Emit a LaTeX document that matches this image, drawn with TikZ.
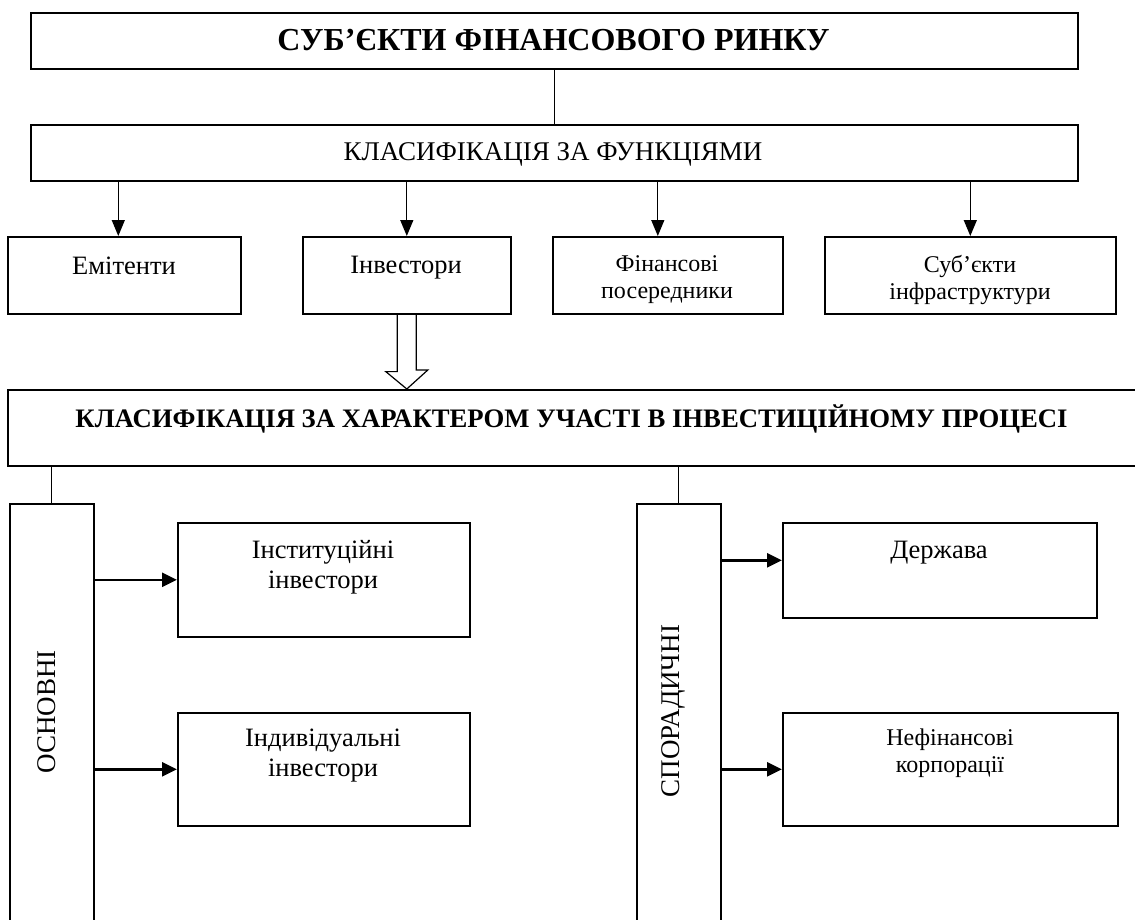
\documentclass[tikz,border=0pt]{standalone}
\usepackage{fontspec}
\setmainfont{Liberation Serif}
\usetikzlibrary{arrows.meta}
\begin{document}
\begin{tikzpicture}[x=1pt,y=-1pt,
 box/.style={draw, line width=1.6pt, inner sep=0pt, anchor=north west},
 conn/.style={line width=1pt},
 varr/.style={line width=1.3pt, -{Triangle[length=16pt,width=13pt]}},
 harr/.style={line width=2.6pt, -{Triangle[length=15pt,width=14pt]}},
 txt/.style={font=\fontsize{26.5}{30}\selectfont, align=center, inner sep=0pt},
 stxt/.style={font=\fontsize{24}{27}\selectfont, align=center, inner sep=0pt},
 rtxt/.style={font=\fontsize{27}{30}\selectfont, rotate=90, inner sep=0pt},
]
\useasboundingbox (0,0) rectangle (1135,919);
\clip (0,0) rectangle (1135,919);
% boxes
\node[box, minimum width=1047pt, minimum height=56pt] (top) at (30,12) {};
\node[box, minimum width=1047pt, minimum height=56pt] (second) at (30,124) {};
\node[box, minimum width=233pt, minimum height=77pt] (e1) at (7,236) {};
\node[box, minimum width=208pt, minimum height=77pt] (e2) at (302,236) {};
\node[box, minimum width=230pt, minimum height=77pt] (e3) at (552,236) {};
\node[box, minimum width=291pt, minimum height=77pt] (e4) at (824,236) {};
\node[box, minimum width=1140pt, minimum height=76pt] (big) at (7,389) {};
\node[box, minimum width=84pt, minimum height=440pt] (lc) at (9,503) {};
\node[box, minimum width=84pt, minimum height=440pt] (rc) at (636,503) {};
\node[box, minimum width=292pt, minimum height=114pt] (inst) at (177,522) {};
\node[box, minimum width=292pt, minimum height=113pt] (indiv) at (177,712) {};
\node[box, minimum width=314pt, minimum height=95pt] (derzh) at (782,522) {};
\node[box, minimum width=335pt, minimum height=113pt] (nefin) at (782,712) {};
% texts
\node[font=\bfseries\fontsize{32}{34}\selectfont, inner sep=0pt] (ttop) at (553.5,40) {СУБ’ЄКТИ ФІНАНСОВОГО РИНКУ};
\node[font=\fontsize{27}{30}\selectfont, inner sep=0pt] (tsecond) at (553,154) {КЛАСИФІКАЦІЯ ЗА ФУНКЦІЯМИ};
\node[txt] (te1) at (124,266) {Емітенти};
\node[txt] (te2) at (406,268) {Інвестори};
\node[stxt] (te3) at (667,280) {Фінансові\\посередники};
\node[stxt] (te4) at (970,280) {Суб’єкти\\інфраструктури};
\node[font=\bfseries\fontsize{26.7}{30}\selectfont, inner sep=0pt] (tbig) at (571.5,419) {КЛАСИФІКАЦІЯ ЗА ХАРАКТЕРОМ УЧАСТІ В ІНВЕСТИЦІЙНОМУ ПРОЦЕСІ};
\node[rtxt] (tlc) at (47,712) {ОСНОВНІ};
\node[rtxt] (trc) at (673,711) {СПОРАДИЧНІ};
\node[txt] (tinst) at (323,567) {Інституційні\\інвестори};
\node[txt] (tindiv) at (323,756) {Індивідуальні\\інвестори};
\node[txt] (tderzh) at (939,553) {Держава};
\node[stxt] (tnefin) at (950,753) {Нефінансові\\корпорації};
% connectors
\draw[conn] (top.south) -- (second.north);
\coordinate (a1) at ([xshift=-6pt]e1.north);
\coordinate (a3) at ([xshift=-10pt]e3.north);
\draw[varr] (a1 |- second.south) -- (a1);
\draw[varr] (e2.north |- second.south) -- (e2.north);
\draw[varr] (a3 |- second.south) -- (a3);
\draw[varr] (e4.north |- second.south) -- (e4.north);
% open arrow
\draw[line width=1.2pt, line join=miter] ([xshift=-9.5pt]e2.south) -- ++(0,57) -- ++(-11.5,0) -- (e2.south |- big.north) -- ++(21,-19) -- ++(-11.5,0) -- ++(0,-57);
\draw[conn] (lc.north) -- (lc.north |- big.south);
\draw[conn] (rc.north) -- (rc.north |- big.south);
\draw[harr] (inst.west -| lc.east) -- (inst.west);
\draw[harr] (indiv.west -| lc.east) -- (indiv.west);
\coordinate (dz) at ([yshift=10pt]derzh.west);
\draw[harr] (dz -| rc.east) -- (dz);
\draw[harr] (nefin.west -| rc.east) -- (nefin.west);
\end{tikzpicture}
\end{document}
